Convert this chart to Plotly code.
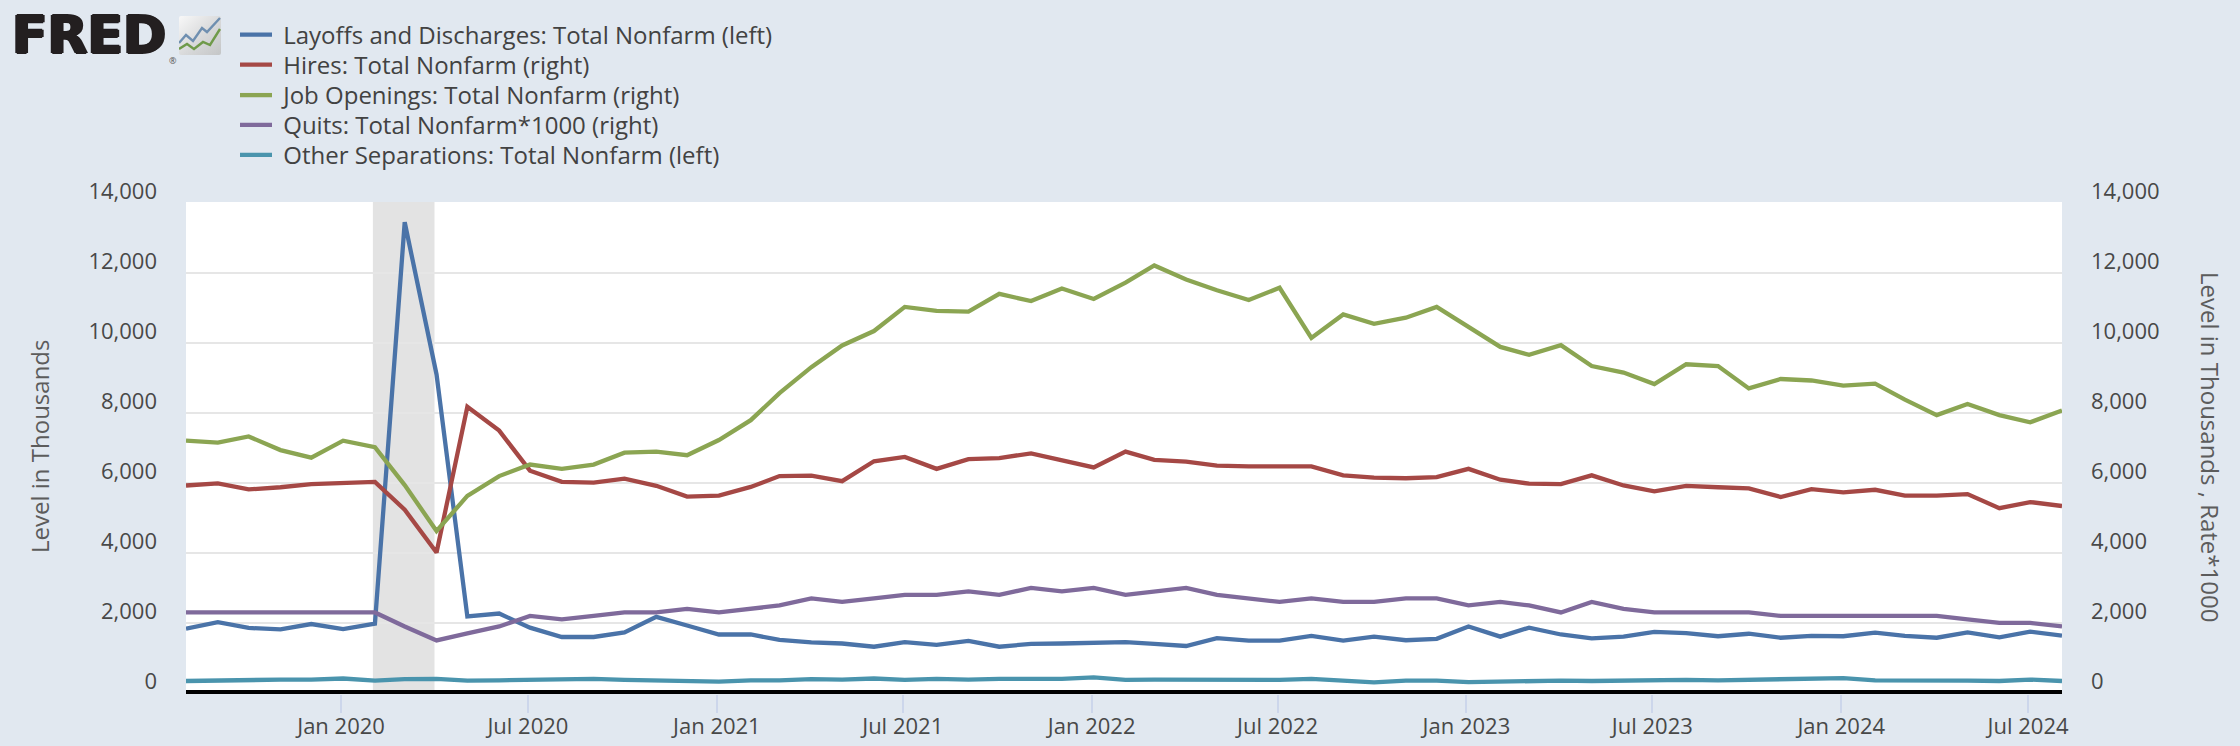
import base64
import pandas as pd
import plotly.graph_objects as go

months = pd.date_range("2019-08-01", "2024-08-01", freq="MS")

layoffs = [1835, 2021, 1856, 1815, 1969, 1825, 1980, 13450, 9100, 2186, 2268, 1866, 1598, 1598, 1732, 2175,
           1928, 1670, 1670, 1516, 1443, 1412, 1320, 1454, 1371, 1485, 1320, 1402, 1412, 1433, 1454, 1402,
           1340, 1567, 1495, 1495, 1629, 1495, 1608, 1505, 1547, 1897, 1608, 1866, 1670, 1557, 1608, 1742,
           1711, 1619, 1691, 1577, 1629, 1619, 1722, 1629, 1577, 1732, 1588, 1753, 1639]
hires = [5928, 5990, 5815, 5877, 5969, 6000, 6031, 5237, 4011, 8176, 7495, 6351, 6031, 6011, 6124, 5918,
         5609, 5640, 5887, 6196, 6207, 6052, 6619, 6743, 6403, 6681, 6712, 6846, 6640, 6444, 6897, 6660,
         6609, 6495, 6475, 6485, 6475, 6217, 6155, 6134, 6165, 6403, 6093, 5980, 5969, 6217, 5928, 5763,
         5918, 5877, 5846, 5598, 5825, 5732, 5805, 5640, 5640, 5681, 5279, 5454, 5341]
openings = [7207, 7155, 7330, 6939, 6722, 7207, 7021, 5939, 4629, 5629, 6196, 6526, 6403, 6526, 6866, 6897,
            6794, 7227, 7794, 8568, 9310, 9929, 10341, 11032, 10918, 10898, 11403, 11197, 11558, 11259, 11723, 12217,
            11815, 11506, 11228, 11578, 10145, 10815, 10547, 10722, 11032, 10444, 9887, 9660, 9939, 9341, 9155, 8825,
            9392, 9341, 8702, 8970, 8928, 8784, 8836, 8382, 7939, 8258, 7939, 7733, 8073]
quits = [2300, 2300, 2300, 2300, 2300, 2300, 2300, 1900, 1500, 1700, 1900, 2200, 2100, 2200, 2300, 2300,
         2400, 2300, 2400, 2500, 2700, 2600, 2700, 2800, 2800, 2900, 2800, 3000, 2900, 3000, 2800, 2900,
         3000, 2800, 2700, 2600, 2700, 2600, 2600, 2700, 2700, 2500, 2600, 2500, 2300, 2600, 2400, 2300,
         2300, 2300, 2300, 2200, 2200, 2200, 2200, 2200, 2200, 2100, 2000, 2000, 1900]
other_separations = [340, 360, 380, 380, 380, 412, 350, 392, 402, 350, 360, 371, 360, 402, 371, 360,
                     360, 320, 360, 360, 392, 380, 412, 371, 402, 380, 402, 402, 402, 443, 371, 380,
                     371, 371, 371, 371, 402, 340, 300, 350, 350, 309, 330, 320, 350, 340, 360, 360,
                     371, 360, 371, 371, 392, 423, 360, 360, 371, 350, 340, 381, 340]

series = [
    ("Layoffs and Discharges: Total Nonfarm (left)", layoffs, "#4a73a8", "y", 35),
    ("Hires: Total Nonfarm (right)", hires, "#a54845", "y2", 65),
    ("Job Openings: Total Nonfarm (right)", openings, "#8ba552", "y2", 95.5),
    ("Quits: Total Nonfarm*1000 (right)", quits, "#7f6a9b", "y2", 125.2),
    ("Other Separations: Total Nonfarm (left)", other_separations, "#4a94ad", "y", 155.2),
]

tick_months = ["2020-01", "2020-07", "2021-01", "2021-07", "2022-01", "2022-07", "2023-01", "2023-07", "2024-01", "2024-07"]
tick_labels = ["Jan 2020", "Jul 2020", "Jan 2021", "Jul 2021", "Jan 2022", "Jul 2022", "Jan 2023", "Jul 2023", "Jan 2024", "Jul 2024"]
y_ticks = [0, 2000, 4000, 6000, 8000, 10000, 12000, 14000]
recession = ("2020-02-01", "2020-04-01")

PAGE = "#e1e8f0"
TEXT = "#484848"
FONT = "Open Sans"
LEFT, RIGHT, TOP, BOTTOM = 186, 2062, 202, 694


def px_x(px):
    return (px - LEFT) / (RIGHT - LEFT)


def px_y(py):
    return (BOTTOM - py) / (BOTTOM - TOP)


nudge = pd.Timedelta(days=2)

fig = go.Figure()
legends = {}
for i, (name, values, colour, axis, row) in enumerate(series):
    key = "legend" if i == 0 else f"legend{i + 1}"
    fig.add_trace(go.Scatter(x=months, y=values, name="\u00a0" + name, yaxis=axis, mode="lines", legend=key,
                             line=dict(color=colour, width=4.3)))
    legends[key] = dict(xref="container", yref="container", x=235 / 2240, y=1 - row / 746,
                        xanchor="left", yanchor="middle", bgcolor="rgba(0,0,0,0)", itemwidth=32,
                        font=dict(family=FONT, size=24, color="#424242"))

shapes = [dict(type="rect", xref="x", yref="paper", x0=pd.Timestamp(recession[0]) - nudge,
               x1=pd.Timestamp(recession[1]) - nudge, y0=0, y1=1,
               fillcolor="#e3e3e3", line_width=0, layer="below")]
for v in y_ticks[1:-1]:
    shapes.append(dict(type="line", xref="paper", yref="y", x0=0, x1=1, y0=v, y1=v,
                       line=dict(color="#e6e6e6", width=2), layer="below"))
shapes.append(dict(type="line", xref="paper", yref="paper", x0=0, x1=1, y0=px_y(692), y1=px_y(692),
                   line=dict(color="#000000", width=4), layer="above"))

axis_common = dict(range=[-31, 14029], tickvals=y_ticks, tickformat=",", showgrid=False, zeroline=False,
                   ticks="", showline=False, ticklabelshift=-12, ticklabelstandoff=28,
                   tickfont=dict(family=FONT, size=22, color=TEXT))

logo_svg = """<svg xmlns='http://www.w3.org/2000/svg' width='42' height='39' viewBox='0 0 42 39'>
<defs><linearGradient id='g' x1='0' y1='0' x2='1' y2='1'><stop offset='0' stop-color='#f8f8f8'/>
<stop offset='0.55' stop-color='#d8d9da'/><stop offset='1' stop-color='#c4c6c7'/></linearGradient></defs>
<rect width='42' height='39' rx='2' fill='url(#g)'/>
<polyline points='0,27 7,19 14,25 23,12 28,16 41,2' fill='none' stroke='#6f8fb0' stroke-width='2.4'/>
<polyline points='0,33 8,28 15,33 24,26 31,29 41,13' fill='none' stroke='#6f9a4a' stroke-width='2.4'/>
</svg>"""
logo_uri = "data:image/svg+xml;base64," + base64.b64encode(logo_svg.encode()).decode()

fig.update_layout(
    width=2240, height=746,
    margin=dict(l=LEFT, r=2240 - RIGHT, t=TOP, b=746 - BOTTOM, autoexpand=False),
    paper_bgcolor=PAGE, plot_bgcolor="#ffffff",
    font=dict(family=FONT, color=TEXT),
    shapes=shapes,
    showlegend=True,
    xaxis=dict(range=[months[0], months[-1]], tickvals=[pd.Timestamp(m + "-01") - nudge for m in tick_months],
               ticktext=tick_labels, ticks="outside", ticklen=18, tickwidth=2, tickcolor="#ccd6eb",
               showgrid=False, zeroline=False, showline=False, ticklabelstandoff=-5,
               tickfont=dict(family=FONT, size=22, color=TEXT)),
    yaxis=dict(**axis_common),
    yaxis2=dict(**axis_common, overlaying="y", side="right"),
    images=[dict(source=logo_uri, xref="paper", yref="paper", x=px_x(179), y=px_y(16),
                 sizex=42 / (RIGHT - LEFT), sizey=39 / (BOTTOM - TOP), xanchor="left", yanchor="top",
                 sizing="stretch", layer="above")],
    annotations=[
        dict(text="Level in Thousands", xref="paper", yref="paper", x=px_x(39), y=px_y(447), textangle=-90,
             xanchor="center", yanchor="middle", showarrow=False, font=dict(family=FONT, size=24, color="#5c5c5c")),
        dict(text="Level in Thousands , Rate*1000", xref="paper", yref="paper", x=px_x(2211), y=px_y(447),
             textangle=90, xanchor="center", yanchor="middle", showarrow=False,
             font=dict(family=FONT, size=24, color="#5c5c5c")),
        dict(text="<b>FRED</b>", xref="paper", yref="paper", x=px_x(10), y=px_y(35), xanchor="left", yanchor="middle",
             showarrow=False, font=dict(family="DejaVu Sans", size=52, color="#231f20",
                                        shadow="1.5px 0 0 #231f20, -1.5px 0 0 #231f20, 0 1px 0 #231f20, 0 -1px 0 #231f20")),
        dict(text="®", xref="paper", yref="paper", x=px_x(167), y=px_y(52), showarrow=False,
             font=dict(family=FONT, size=9, color="#555555")),
    ],
)
fig.update_layout(**legends)
fig.write_html("out.html")
